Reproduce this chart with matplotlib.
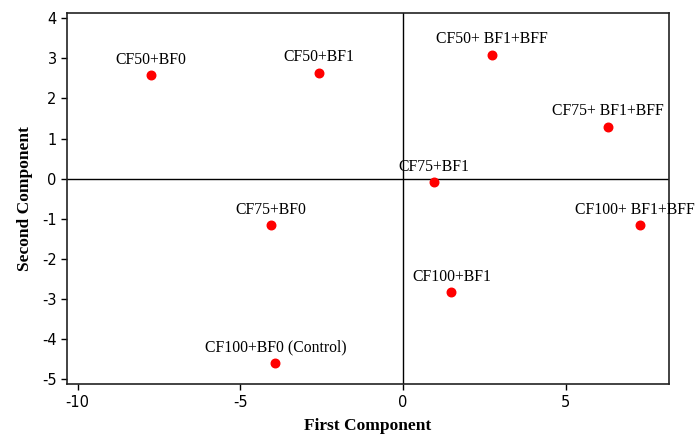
import matplotlib
matplotlib.use("Agg")
from matplotlib import pyplot as plt

plt.rcParams['axes.unicode_minus'] = False

# scores
labels = ['CF50+BF0', 'CF50+BF1', 'CF50+ BF1+BFF', 'CF75+ BF1+BFF', 'CF75+BF1',
          'CF100+ BF1+BFF', 'CF100+BF1', 'CF75+BF0', 'CF100+BF0 (Control)']
first_comp = [-7.74, -2.58, 2.74, 6.29, 0.96, 7.29, 1.49, -4.06, -3.92]
second_comp = [2.57, 2.64, 3.09, 1.29, -0.09, -1.16, -2.83, -1.16, -4.59]

xticks = [-10, -5, 0, 5]
yticks = [-5, -4, -3, -2, -1, 0, 1, 2, 3, 4]

fig = plt.figure(figsize=(6.95, 4.34), dpi=100)
ax = fig.add_axes([0.0964, 0.1145, 0.8662, 0.855])

ax.axhline(0, color='black', lw=1.0, zorder=1)
ax.axvline(0, color='black', lw=1.0, zorder=1)
ax.scatter(first_comp, second_comp, s=38, color='red', zorder=3)

# labels sit just above each point; the one by the right edge is nudged in
for lab, x, y in zip(labels, first_comp, second_comp):
    dx = -4 if x > 7 else 0
    ax.annotate(lab, (x, y), xytext=(dx, 5.5), textcoords='offset points',
                ha='center', va='bottom', fontsize=11.3,
                family='Liberation Serif', annotation_clip=False)

ax.set_xlim(-10.33, 8.18)
ax.set_ylim(-5.12, 4.12)
ax.set_xticks(xticks)
ax.set_yticks(yticks)
ax.tick_params(direction='out', length=4, width=1, labelsize=10.5,
               top=False, right=False, colors='black')
for sp in ax.spines.values():
    sp.set_linewidth(1.2)
    sp.set_color('#222222')

ax.set_xlabel('First Component', family='Liberation Serif', fontweight='bold',
              fontsize=12.5, labelpad=6)
ax.set_ylabel('Second Component', family='Liberation Serif', fontweight='bold',
              fontsize=12.5, labelpad=6)

fig.savefig('out.png', dpi=100)
